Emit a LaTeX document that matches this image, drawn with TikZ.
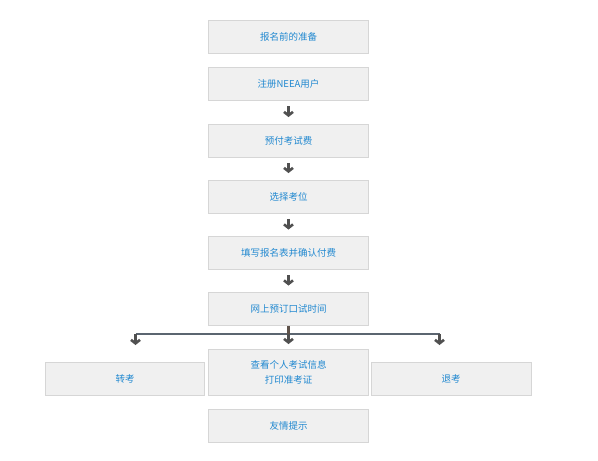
\documentclass[tikz,border=0pt]{standalone}
\usepackage{fontspec}
\setmainfont{Noto Sans CJK SC}
\usetikzlibrary{arrows.meta}
\definecolor{boxfill}{HTML}{F0F0F0}
\definecolor{boxline}{HTML}{D6D6D6}
\definecolor{txtblue}{HTML}{2088D0}
\definecolor{arrgray}{HTML}{505050}
\definecolor{bargray}{HTML}{5B6570}
\definecolor{stemcol}{HTML}{5E524A}
\begin{document}
\begin{tikzpicture}[x=1pt,y=-1pt,
  stepbox/.style={draw=boxline,line width=0.9pt,fill=boxfill,inner sep=0pt,
    minimum width=160pt,minimum height=33pt,text=txtblue,align=center,
    font=\fontsize{9.5}{15}\selectfont},
  arr/.style={draw=arrgray,line width=2.6pt,-{Straight Barb[length=3.5pt,width=9pt]}},
  bar/.style={draw=bargray,line width=1.8pt}]
\useasboundingbox (0,0) rectangle (598,461);
\node[stepbox] (b1) at (288.5,37.25) {报名前的准备};
\node[stepbox] (b2) at (288.5,84) {注册NEEA用户};
\node[stepbox] (b3) at (288.5,140.5) {预付考试费};
\node[stepbox] (b4) at (288.5,196.5) {选择考位};
\node[stepbox] (b5) at (288.5,253) {填写报名表并确认付费};
\node[stepbox] (b6) at (288.5,309) {网上预订口试时间};
\node[stepbox,minimum width=159pt,minimum height=33.5pt] (lb) at (125,378.75) {转考};
\node[stepbox,minimum height=46.5pt] (cb) at (288.5,372.25) {查看个人考试信息\\打印准考证};
\node[stepbox,minimum height=33.5pt] (rb) at (451,378.75) {退考};
\node[stepbox] (fb) at (288.5,425.5) {友情提示};
\foreach \a/\b in {b2/b3,b3/b4,b4/b5,b5/b6}
  \draw[arr,shorten <=5.5pt,shorten >=6.5pt] (\a.south) -- (\b.north);
\coordinate (jL) at (135.5,334);
\coordinate (jR) at (439.5,334);
\coordinate (tL) at (135.5,345);
\coordinate (tR) at (439.5,345);
\draw[bar] (jL) -- (jR);
\draw[arr] (jL) -- (tL);
\draw[arr] (jR) -- (tR);
\draw[draw=stemcol,line width=2.2pt,shorten >=8pt] (b6.south) -- (cb.north);
\draw[arr,shorten >=4.5pt] (288.5,334) -- (cb.north);
\end{tikzpicture}
\end{document}
